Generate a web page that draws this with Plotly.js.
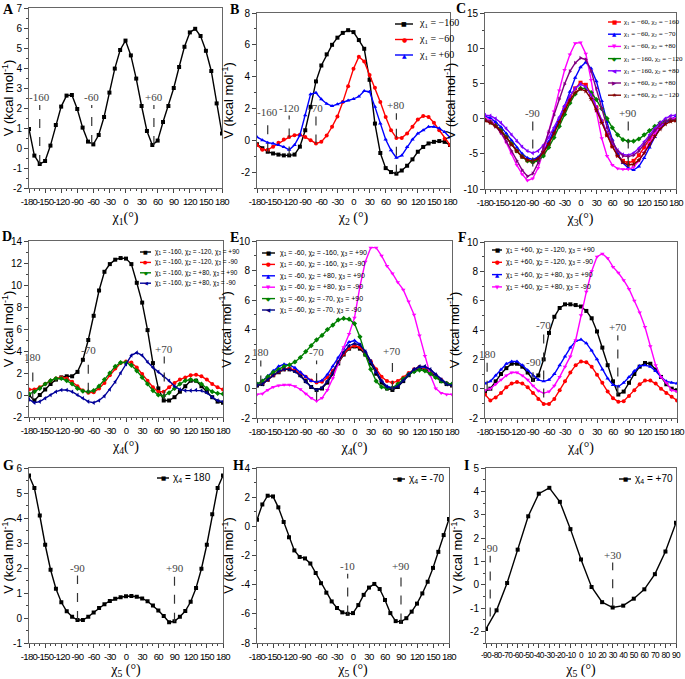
<!DOCTYPE html>
<html><head><meta charset="utf-8">
<script src="https://cdn.plot.ly/plotly-3.0.1.min.js"></script>
<style>
html,body{margin:0;padding:0;background:#fff}
#plot{width:685px;height:679px}
g[class^="x"][class$="tick"] text{letter-spacing:-0.7px}
</style>
</head><body><div id="plot"></div>
<script>
const W = 685, H = 679;

// ---------- x grids ----------
const chi = [-180,-170,-160,-150,-140,-130,-120,-110,-100,-90,-80,-70,-60,-50,-40,-30,-20,-10,0,10,20,30,40,50,60,70,80,90,100,110,120,130,140,150,160,170,180];
const chiI = [-90,-80,-70,-60,-50,-40,-30,-20,-10,0,10,20,30,40,50,60,70,80,90];

// ---------- tick values ----------
const xTicks360 = [-180,-150,-120,-90,-60,-30,0,30,60,90,120,150,180];
const xTicksI = [-90,-80,-70,-60,-50,-40,-30,-20,-10,0,10,20,30,40,50,60,70,80,90];
const yTicksA = [-2,-1,0,1,2,3,4,5,6,7];
const yTicksB = [-2,0,2,4,6,8];
const yTicksC = [-10,-5,0,5,10,15];
const yTicksD = [-2,0,2,4,6,8,10,12,14];
const yTicksE = [-2,0,2,4,6,8,10];
const yTicksF = [-2,0,2,4,6,8,10];
const yTicksG = [-1,0,1,2,3,4,5,6];
const yTicksH = [-8,-6,-4,-2,0,2,4];
const yTicksI = [-2,-1,0,1,2,3,4,5];

// ---------- Panel A (chi1) ----------
const A_v = [0.95,-0.38,-0.8,-0.65,0.12,1.15,2.07,2.62,2.65,1.95,1.02,0.32,0.18,0.65,1.55,2.77,3.97,4.9,5.37,4.63,3.47,2.1,0.85,0.15,0.37,1.3,2.1,3.0,4.05,5.06,5.78,5.96,5.6,4.86,3.85,2.23,0.72];

// ---------- Panel B (chi2) ----------
const B_m160 = [-0.25,-0.5,-0.72,-0.83,-0.9,-0.95,-0.95,-0.9,-0.4,0.63,2.1,3.7,4.7,5.4,6.0,6.45,6.75,6.92,6.8,6.3,5.75,3.8,1.05,-0.8,-1.75,-2.0,-2.1,-1.9,-1.6,-1.2,-0.72,-0.42,-0.2,-0.1,-0.05,-0.1,-0.3];
const B_m60 = [-0.3,-0.6,-0.6,-0.4,-0.15,0.05,0.2,0.32,0.35,0.2,0.0,-0.2,-0.1,0.3,0.85,1.5,2.4,3.4,4.5,5.25,4.95,4.1,3.3,2.4,1.47,0.63,0.15,0.15,0.42,0.85,1.3,1.53,1.47,1.1,0.63,0.1,-0.3];
const B_p60 = [0.2,0.0,-0.15,-0.2,-0.3,-0.42,-0.6,-0.3,0.32,1.57,2.9,2.98,2.58,2.3,2.15,2.27,2.4,2.5,2.6,2.75,3.1,3.05,2.1,1.05,0.05,-0.63,-1.1,-0.95,-0.42,0.05,0.42,0.63,0.85,0.85,0.75,0.52,0.17];

// ---------- Panel C (chi3) ----------
const C_1 = [-0.2,-0.4,-0.9,-1.6,-2.6,-3.6,-4.6,-5.4,-5.9,-6.1,-5.8,-4.9,-3.6,-2.0,-0.3,1.4,3.0,4.3,5.1,4.8,3.5,1.6,-0.4,-2.3,-3.9,-5.2,-6.0,-6.3,-6.0,-5.2,-4.1,-2.9,-1.8,-1.0,-0.5,-0.2,-0.2];
const C_2 = [0.3,0.1,-0.5,-1.2,-2.1,-3.1,-4.1,-5.0,-5.6,-5.8,-5.5,-4.6,-3.3,-1.7,0.0,1.8,3.8,5.8,7.3,8.0,7.1,5.3,2.5,-0.5,-3.0,-5.0,-6.3,-7.0,-7.3,-6.8,-5.6,-4.1,-2.6,-1.4,-0.6,-0.1,0.3];
const C_3 = [0.1,-0.2,-0.9,-2.0,-3.4,-5.0,-6.6,-7.9,-8.8,-8.5,-7.0,-4.7,-2.0,1.0,4.0,6.9,9.1,10.7,10.8,9.2,5.5,1.0,-2.8,-5.3,-6.6,-7.1,-7.2,-7.2,-6.9,-6.0,-4.8,-3.4,-2.1,-1.1,-0.4,0.0,0.1];
const C_4 = [-0.2,-0.5,-1.0,-1.7,-2.6,-3.6,-4.6,-5.4,-6.0,-6.2,-6.0,-5.3,-4.1,-2.7,-1.1,0.6,2.2,3.5,4.3,4.3,3.7,2.7,1.4,0.0,-1.3,-2.3,-3.0,-3.2,-3.2,-2.9,-2.3,-1.7,-1.1,-0.6,-0.3,-0.2,-0.2];
const C_5 = [0.5,0.4,0.0,-0.6,-1.4,-2.3,-3.2,-4.0,-4.6,-4.9,-4.6,-3.8,-2.7,-1.3,0.2,1.8,3.2,4.3,4.9,4.5,3.3,1.6,-0.3,-2.0,-3.5,-4.5,-5.1,-5.2,-4.9,-4.2,-3.3,-2.3,-1.4,-0.6,0.0,0.4,0.5];
const C_6 = [-0.2,-0.5,-1.1,-2.0,-3.2,-4.6,-6.0,-7.3,-8.2,-7.8,-6.3,-4.2,-1.9,0.5,2.8,4.9,6.7,7.9,8.6,8.4,6.8,4.3,1.5,-1.2,-3.2,-4.6,-5.3,-5.4,-5.2,-4.6,-3.7,-2.7,-1.7,-0.9,-0.4,-0.1,-0.2];
const C_7 = [-0.3,-0.6,-1.1,-1.8,-2.7,-3.7,-4.6,-5.4,-5.9,-6.0,-5.7,-4.8,-3.6,-2.1,-0.5,1.1,2.6,3.7,4.2,3.9,2.8,1.2,-0.6,-2.4,-4.0,-5.3,-6.2,-6.6,-6.5,-5.9,-4.9,-3.7,-2.5,-1.5,-0.8,-0.4,-0.3];

// ---------- Panel D (chi4) ----------
const D_1 = [0.0,-0.5,0.0,0.5,1.0,1.4,1.6,1.7,1.7,2.1,3.2,5.0,7.2,9.5,11.2,11.9,12.3,12.45,12.4,11.9,10.2,8.4,5.9,2.9,0.6,-0.5,-0.5,-0.2,0.3,0.8,1.3,1.3,0.8,0.3,-0.2,-0.6,-0.7];
const D_2 = [0.5,0.5,0.7,1.0,1.3,1.5,1.6,1.5,1.2,0.8,0.4,0.2,0.25,0.6,1.1,1.8,2.4,2.9,3.05,2.95,2.5,1.9,1.3,0.7,0.3,0.3,0.7,1.1,1.4,1.6,1.8,1.85,1.7,1.4,1.0,0.7,0.5];
const D_3 = [0.1,0.3,0.6,1.0,1.3,1.5,1.5,1.3,1.0,0.6,0.35,0.3,0.4,0.8,1.4,2.0,2.6,2.95,2.95,2.7,2.2,1.6,1.0,0.4,0.0,-0.1,0.2,0.6,1.0,1.3,1.4,1.3,1.0,0.6,0.3,0.15,0.1];
const D_4 = [-0.4,-0.7,-0.6,-0.3,0.0,0.3,0.45,0.45,0.3,0.0,-0.3,-0.6,-0.7,-0.5,-0.1,0.5,1.2,2.0,2.8,3.6,3.85,3.6,3.0,2.5,2.1,1.7,1.3,0.8,0.5,0.4,0.4,0.45,0.4,0.2,-0.2,-0.5,-0.6];

// ---------- Panel E (chi4) ----------
const E_1 = [0.2,0.3,0.6,0.9,1.1,1.3,1.3,1.2,0.9,0.5,0.1,-0.1,0.0,0.4,1.0,1.7,2.3,2.7,2.85,2.7,2.3,1.7,1.0,0.4,0.0,-0.1,0.1,0.5,0.9,1.2,1.35,1.3,1.1,0.8,0.5,0.3,0.2];
const E_2 = [0.25,0.35,0.6,0.9,1.15,1.3,1.35,1.25,1.05,0.8,0.55,0.4,0.45,0.75,1.2,1.8,2.35,2.75,2.9,2.8,2.4,1.85,1.3,0.8,0.5,0.4,0.5,0.75,1.05,1.3,1.45,1.4,1.2,0.9,0.6,0.35,0.25];
const E_3 = [0.3,0.5,0.85,1.2,1.5,1.65,1.6,1.4,1.1,0.8,0.5,0.45,0.55,0.95,1.5,2.1,2.7,3.15,3.25,3.0,2.5,1.8,1.1,0.5,0.15,0.05,0.25,0.6,1.0,1.3,1.45,1.45,1.25,0.95,0.6,0.35,0.3];
const E_4 = [-0.4,-0.35,-0.1,0.1,0.2,0.25,0.25,0.15,-0.05,-0.35,-0.65,-0.85,-0.65,-0.1,0.7,1.7,2.8,3.7,4.8,6.9,8.6,9.55,9.55,9.0,8.3,7.8,7.2,6.7,5.9,5.0,3.6,2.2,0.9,0.0,-0.3,-0.4,-0.4];
const E_5 = [0.3,0.5,0.8,1.1,1.3,1.5,1.6,1.8,2.1,2.5,2.9,3.3,3.6,4.0,4.3,4.65,4.75,4.7,4.4,3.5,2.3,1.3,0.5,0.1,0.0,0.05,0.3,0.65,0.95,1.15,1.25,1.2,1.0,0.75,0.5,0.35,0.3];
const E_6 = [0.2,0.3,0.6,0.9,1.15,1.3,1.3,1.15,0.85,0.45,0.1,-0.1,0.05,0.5,1.1,1.8,2.45,2.9,3.05,2.95,2.5,1.85,1.15,0.5,0.1,0.0,0.15,0.55,0.95,1.3,1.5,1.5,1.3,0.95,0.6,0.3,0.2];

// ---------- Panel F (chi4) ----------
const F_1 = [-0.2,0.0,0.5,1.0,1.4,1.7,1.7,1.5,1.1,0.6,0.9,2.0,3.8,4.9,5.5,5.75,5.75,5.7,5.6,5.3,4.8,3.9,2.8,1.6,0.5,-0.4,-0.2,0.4,1.0,1.5,1.75,1.7,1.3,0.8,0.3,0.0,-0.1];
const F_2 = [-0.4,-0.8,-0.6,-0.3,0.1,0.35,0.45,0.35,0.1,-0.3,-0.7,-1.05,-1.05,-0.7,-0.1,0.5,1.1,1.6,1.85,1.8,1.5,0.95,0.4,-0.2,-0.65,-0.9,-0.85,-0.5,-0.1,0.3,0.55,0.55,0.35,0.0,-0.3,-0.55,-0.8];
const F_3 = [0.35,0.5,0.9,1.3,1.7,1.85,1.85,1.6,1.25,0.9,0.6,0.5,0.6,1.0,1.6,2.2,2.8,3.25,3.35,3.1,2.6,2.0,1.3,0.7,0.25,0.15,0.4,0.8,1.2,1.55,1.6,1.5,1.2,0.8,0.5,0.4,0.35];
const F_4 = [-0.1,0.0,0.3,0.6,0.9,1.1,1.1,0.9,0.6,0.2,-0.15,-0.3,-0.2,0.2,0.8,1.5,2.2,3.3,5.0,6.6,8.0,9.0,9.2,8.9,8.3,7.9,7.4,6.8,6.0,5.2,4.2,2.9,1.6,0.8,0.4,-0.1,-0.2];

// ---------- Panels G, H (chi5, 360 deg) and I (chi5, 180 deg) ----------
const G_v = [5.7,5.2,4.1,2.93,1.93,1.17,0.63,0.27,0.05,-0.08,-0.08,0.05,0.22,0.4,0.55,0.68,0.77,0.83,0.87,0.88,0.85,0.78,0.67,0.5,0.3,0.08,-0.17,-0.13,0.05,0.28,0.65,1.2,1.97,2.93,4.15,5.2,5.7];
const H_v = [0.45,1.5,2.1,2.05,1.3,0.3,-0.75,-1.65,-2.1,-2.2,-2.55,-3.2,-3.9,-4.55,-5.15,-5.6,-5.9,-6.0,-5.95,-5.4,-4.7,-4.2,-3.95,-4.3,-5.05,-5.95,-6.5,-6.55,-6.3,-5.85,-5.3,-4.6,-3.8,-2.85,-1.75,-0.6,0.5];
const I_v = [-1.9,-1.1,0.07,1.5,2.93,3.9,4.15,3.55,2.38,1.08,-0.1,-0.75,-0.98,-0.9,-0.6,-0.2,0.45,1.42,2.65];

// ---------- legend labels ----------
const labB = ['χ<sub>1</sub> = −160','χ<sub>1</sub> = −60','χ<sub>1</sub> = +60'];
const labC = ['χ<sub>1</sub> = −60, χ<sub>2</sub> = −160','χ<sub>1</sub> = −60, χ<sub>2</sub> = −70','χ<sub>1</sub> = −60, χ<sub>2</sub> = +80','χ<sub>1</sub> = −160, χ<sub>2</sub> = −120','χ<sub>1</sub> = −160, χ<sub>2</sub> = +80','χ<sub>1</sub> = +60, χ<sub>2</sub> = +80','χ<sub>1</sub> = +60, χ<sub>2</sub> = −120'];
const labD = ['χ<sub>1</sub> = -160, χ<sub>2</sub> = -120, χ<sub>3</sub> = +90','χ<sub>1</sub> = -160, χ<sub>2</sub> = -120, χ<sub>3</sub> = -90','χ<sub>1</sub> = -160, χ<sub>2</sub> = +80, χ<sub>3</sub> = +90','χ<sub>1</sub> = -160, χ<sub>2</sub> = +80, χ<sub>3</sub> = -90'];
const labE = ['χ<sub>1</sub> = -60, χ<sub>2</sub> = -160, χ<sub>3</sub> = +90','χ<sub>1</sub> = -60, χ<sub>2</sub> = -160, χ<sub>3</sub> = -90','χ<sub>1</sub> = -60, χ<sub>2</sub> = +80, χ<sub>3</sub> = +90','χ<sub>1</sub> = -60, χ<sub>2</sub> = +80, χ<sub>3</sub> = -90','χ<sub>1</sub> = -60, χ<sub>2</sub> = -70, χ<sub>3</sub> = +90','χ<sub>1</sub> = -60, χ<sub>2</sub> = -70, χ<sub>3</sub> = -90'];
const labF = ['χ<sub>1</sub> = +60, χ<sub>2</sub> = -120, χ<sub>3</sub> = +90','χ<sub>1</sub> = +60, χ<sub>2</sub> = -120, χ<sub>3</sub> = -90','χ<sub>1</sub> = +60, χ<sub>2</sub> = +80, χ<sub>3</sub> = +90','χ<sub>1</sub> = +60, χ<sub>2</sub> = +80, χ<sub>3</sub> = -90'];
const labG = ['χ<sub>4</sub> = 180'];
const labH = ['χ<sub>4</sub> = -70'];
const labI = ['χ<sub>4</sub> = +70'];

// ---------- reference dashed markers: [x, yLow, yHigh, label] ----------
const refA = [[-160,-0.8,2.15,'-160'],[-63,0.2,2.15,'-60'],[53,0.15,2.15,'+60']];
const refB = [[-160,-0.75,1.3,'-160'],[-120,-0.95,1.55,'-120'],[-70,-0.2,1.5,'-70'],[80,-2.1,1.7,'+80']];
const refC = [[-90,-6.8,-0.4,'-90'],[90,-6.8,-0.4,'+90']];
const refD = [[-173,-0.4,2.75,'180'],[-70,0.3,3.35,'-70'],[71,-0.4,3.5,'+70']];
const refE = [[-173,0.27,1.9,'180'],[-70,-0.8,1.9,'-70'],[70,-0.1,2.0,'+70']];
const refF = [[-176,-0.07,1.85,'180'],[-90,0.5,1.3,'-90'],[-70,-0.6,3.8,'-70'],[69,-0.4,3.65,'+70']];
const refG = [[-90,-0.08,1.7,'-90'],[90,-0.15,1.7,'+90']];
const refH = [[-10,-6.05,-3.25,'-10'],[90,-6.6,-3.25,'+90']];
const refI = [[-86,-1.36,1.24,'-90'],[30,-0.93,0.95,'+30']];

// ---------- panel definitions ----------
const S = (x,y,color,symbol,name)=>({x,y,color,symbol,name});
const panels = [
 {L:'A', box:[29,222,8,188], xr:[-180,180], yr:[-2,7], xt:xTicks360, xm:10, yt:yTicksA, ym:0.5, xtitle:'χ<sub>1</sub>(°)', letter:[1,10],
  series:[S(chi,A_v,'#000','square','')], refs:refA, leg:null},
 {L:'B', box:[257,450,13,188], xr:[-180,180], yr:[-3,8], xt:xTicks360, xm:10, yt:yTicksB, ym:1, xtitle:'χ<sub>2</sub> (°)', letter:[228,10],
  series:[S(chi,B_m160,'#000','square',labB[0]),S(chi,B_m60,'#ff0000','circle',labB[1]),S(chi,B_p60,'#0000ff','triangle-up',labB[2])],
  refs:refB, leg:{x0:395,x1:413,tx:417,y0:24,dy:15.5,fam:'Liberation Serif',fs:10,gs:6}},
 {L:'C', box:[485,676,13,189], xr:[-180,180], yr:[-10,15], xt:xTicks360, xm:10, yt:yTicksC, ym:2.5, xtitle:'χ<sub>3</sub>(°)', letter:[454,9],
  series:[S(chi,C_1,'#ff0000','square',labC[0]),S(chi,C_2,'#0000ff','triangle-up',labC[1]),S(chi,C_3,'#ff00ff','triangle-down',labC[2]),
          S(chi,C_4,'#008000','diamond',labC[3]),S(chi,C_5,'#8000ff','triangle-left',labC[4]),S(chi,C_6,'#800080','triangle-right',labC[5]),
          S(chi,C_7,'#800000','star',labC[6])],
  refs:refC, leg:{x0:608,x1:621,tx:622,y0:22,dy:12.2,fam:'Liberation Serif',fs:7,gs:5.5}},
 {L:'D', box:[29,223,241,417], xr:[-180,180], yr:[-2,14], xt:xTicks360, xm:10, yt:yTicksD, ym:1, xtitle:'χ<sub>4</sub>(°)', letter:[0,236],
  series:[S(chi,D_1,'#000','square',labD[0]),S(chi,D_2,'#ff0000','circle',labD[1]),S(chi,D_3,'#008000','diamond',labD[2]),S(chi,D_4,'#000099','triangle-left',labD[3])],
  refs:refD, leg:{x0:140,x1:151,tx:153,y0:252,dy:10.4,fam:'Liberation Sans',fs:6.5,gs:5}},
 {L:'E', box:[257,452,241,418], xr:[-180,180], yr:[-2,10], xt:xTicks360, xm:10, yt:yTicksE, ym:1, xtitle:'χ<sub>4</sub>(°)', letter:[228,237],
  series:[S(chi,E_1,'#000','square',labE[0]),S(chi,E_2,'#ff0000','circle',labE[1]),S(chi,E_3,'#0000ff','triangle-up',labE[2]),
          S(chi,E_4,'#ff00ff','triangle-down',labE[3]),S(chi,E_5,'#008000','diamond',labE[4]),S(chi,E_6,'#000080','triangle-left',labE[5])],
  refs:refE, leg:{x0:262,x1:275,tx:278,y0:253,dy:11.4,fam:'Liberation Sans',fs:7,gs:5.5}},
 {L:'F', box:[485,677,242,418], xr:[-180,180], yr:[-2,10], xt:xTicks360, xm:10, yt:yTicksF, ym:1, xtitle:'χ<sub>4</sub>(°)', letter:[456,237],
  series:[S(chi,F_1,'#000','square',labF[0]),S(chi,F_2,'#ff0000','circle',labF[1]),S(chi,F_3,'#0000ff','triangle-up',labF[2]),S(chi,F_4,'#ff00ff','triangle-down',labF[3])],
  refs:refF, leg:{x0:492,x1:502,tx:504,y0:250,dy:12.3,fam:'Liberation Sans',fs:7,gs:5.5}},
 {L:'G', box:[29,223,468,643], xr:[-180,180], yr:[-1,6], xt:xTicks360, xm:10, yt:yTicksG, ym:0.5, xtitle:'χ<sub>5</sub> (°)', letter:[1,465],
  series:[S(chi,G_v,'#000','square',labG[0])], refs:refG, leg:{x0:157,x1:169,tx:171,y0:478,dy:12,fam:'Liberation Sans',fs:10,gs:5.5}},
 {L:'H', box:[257,449,468,643], xr:[-180,180], yr:[-8,4], xt:xTicks360, xm:10, yt:yTicksH, ym:1, xtitle:'χ<sub>5</sub> (°)', letter:[231,465],
  series:[S(chi,H_v,'#000','square',labH[0])], refs:refH, leg:{x0:393,x1:405,tx:407,y0:479,dy:12,fam:'Liberation Sans',fs:10,gs:5.5}},
 {L:'I', box:[486,676,468,643], xr:[-90,90], yr:[-2.5,5], xt:xTicksI, xm:5, yt:yTicksI, ym:0.5, xtitle:'χ<sub>5</sub> (°)', letter:[462,465],
  series:[S(chiI,I_v,'#000','square',labI[0])], refs:refI, leg:{x0:619,x1:631,tx:633,y0:479,dy:12,fam:'Liberation Sans',fs:10,gs:5.5}}
];

const glyph = {'square':'■','circle':'●','triangle-up':'▲','triangle-down':'▼','diamond':'◆','triangle-left':'◀','triangle-right':'▶','star':'★'};
const PX = x => x / W, PY = y => 1 - y / H;
const tickText = arr => arr.map(v => String(v));

const traces = [], shapes = [], annotations = [];
const layout = {
  width: W, height: H, margin: {l:0, r:0, t:0, b:0},
  paper_bgcolor: '#fff', plot_bgcolor: '#fff', showlegend: false,
  font: {family: 'Liberation Sans, Arial, sans-serif', color: '#000'}
};

panels.forEach((p, i) => {
  const k = i + 1, xa = 'x' + k, ya = 'y' + k;
  const axBase = {
    showline: true, linecolor: '#666', linewidth: 1, mirror: true,
    ticks: 'outside', ticklen: 4, tickwidth: 1, tickcolor: '#444',
    showgrid: false, zeroline: false, tickangle: 0, ticklabeloverflow: 'allow'
  };
  layout['xaxis' + k] = Object.assign({}, axBase, {
    domain: [PX(p.box[0]), PX(p.box[1])], anchor: ya, range: p.xr,
    tickmode: 'array', tickvals: p.xt, ticktext: tickText(p.xt),
    minor: {ticks: 'outside', ticklen: 2, tickmode: 'linear', tick0: 0, dtick: p.xm, tickcolor: '#444'},
    tickfont: {family: 'Liberation Sans, Arial, sans-serif', size: p.L === 'I' ? 8.4 : 9.6, color: '#000'},
    title: {text: p.xtitle, font: {family: 'Liberation Serif, Times New Roman, serif', size: 14}, standoff: 6}
  });
  layout['yaxis' + k] = Object.assign({}, axBase, {
    domain: [PY(p.box[3]), PY(p.box[2])], anchor: xa, range: p.yr,
    tickmode: 'array', tickvals: p.yt, ticktext: tickText(p.yt),
    minor: {ticks: 'outside', ticklen: 2, tickmode: 'linear', tick0: 0, dtick: p.ym, tickcolor: '#444'},
    tickfont: {family: 'Liberation Sans, Arial, sans-serif', size: 10, color: '#000'},
    title: {text: 'V (kcal mol<sup>-1</sup>)', font: {family: 'Liberation Sans, Arial, sans-serif', size: 13}, standoff: 4}
  });

  p.series.forEach(s => {
    traces.push({
      x: s.x, y: s.y, xaxis: xa, yaxis: ya, type: 'scatter', mode: 'lines+markers',
      line: {color: s.color, width: 1.4}, marker: {color: s.color, symbol: s.symbol, size: 4},
      hoverinfo: 'skip', showlegend: false, name: s.name
    });
  });

  p.refs.forEach(r => {
    shapes.push({type: 'line', xref: xa, yref: ya, x0: r[0], x1: r[0], y0: r[1], y1: r[2],
      line: {color: '#333', width: 1.2, dash: 'dash'}});
    annotations.push({xref: xa, yref: ya, x: r[0], y: r[2], text: r[3], showarrow: false,
      xanchor: 'center', yanchor: 'bottom',
      font: {family: 'Liberation Serif, Times New Roman, serif', size: 11, color: '#444'}});
  });

  annotations.push({xref: 'paper', yref: 'paper', x: PX(p.letter[0]), y: PY(p.letter[1]), text: '<b>' + p.L + '</b>',
    showarrow: false, xanchor: 'left', yanchor: 'middle',
    font: {family: 'Liberation Serif, Times New Roman, serif', size: 14, color: '#000'}});

  if (p.leg) {
    const g = p.leg;
    p.series.forEach((s, j) => {
      const yy = g.y0 + j * g.dy;
      shapes.push({type: 'line', xref: 'paper', yref: 'paper', x0: PX(g.x0), x1: PX(g.x1), y0: PY(yy), y1: PY(yy),
        line: {color: s.color, width: 1.4}});
      annotations.push({xref: 'paper', yref: 'paper', x: PX((g.x0 + g.x1) / 2), y: PY(yy), text: glyph[s.symbol],
        showarrow: false, xanchor: 'center', yanchor: 'middle',
        font: {family: 'DejaVu Sans', size: g.gs, color: s.color}});
      annotations.push({xref: 'paper', yref: 'paper', x: PX(g.tx), y: PY(yy), text: s.name,
        showarrow: false, xanchor: 'left', yanchor: 'middle',
        font: {family: g.fam, size: g.fs, color: '#000'}});
    });
  }
});

layout.shapes = shapes;
layout.annotations = annotations;
Plotly.newPlot('plot', traces, layout, {staticPlot: true, displayModeBar: false});
</script>
</body></html>
